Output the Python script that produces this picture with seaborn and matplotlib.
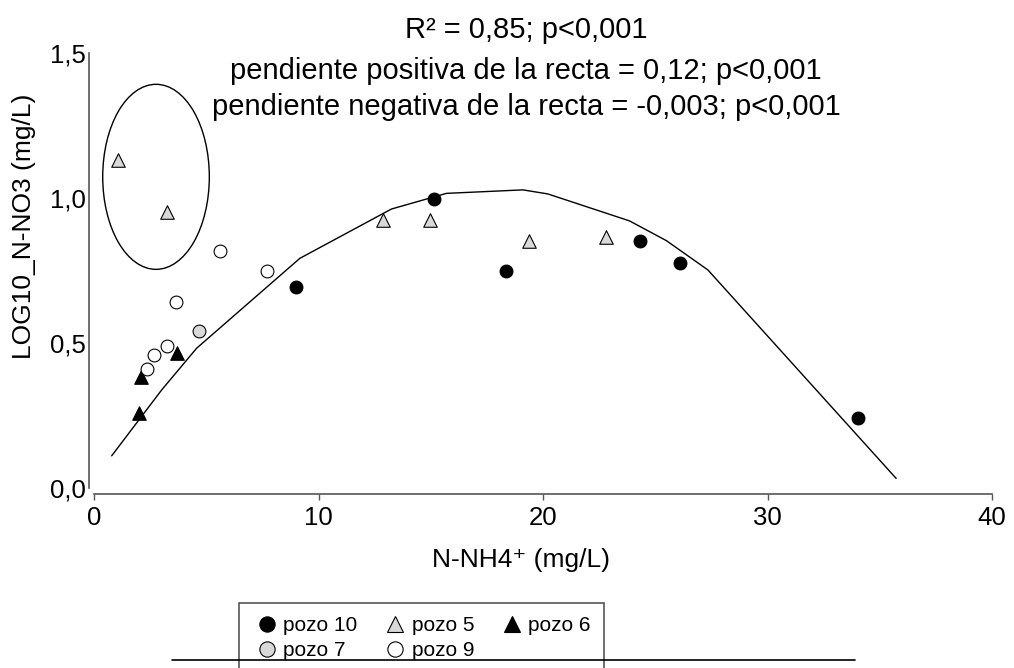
import numpy as np
import pandas as pd
import matplotlib
matplotlib.use("Agg")
import matplotlib.pyplot as plt
import matplotlib.transforms as mtransforms
from matplotlib.patches import Ellipse
from matplotlib.lines import Line2D
import seaborn as sns

# ---------------- data ----------------
pozo10_x = [8.97, 15.12, 18.33, 24.33, 26.12, 34.05]
pozo10_y = [0.694, 0.997, 0.748, 0.852, 0.775, 0.242]

pozo5_x = [1.06, 3.24, 12.85, 14.95, 19.39, 22.81]
pozo5_y = [1.131, 0.952, 0.924, 0.924, 0.853, 0.866]

pozo6_x = [1.99, 2.07, 3.67]
pozo6_y = [0.258, 0.384, 0.467]

pozo7_x = [4.66]
pozo7_y = [0.541]

pozo9_x = [2.36, 2.67, 3.22, 3.62, 5.60, 7.68]
pozo9_y = [0.409, 0.460, 0.491, 0.640, 0.818, 0.748]

curve_x = [0.775, 3.00, 4.56, 9.16, 13.24, 15.69, 19.10, 20.21, 23.85, 25.49, 27.34, 35.73]
curve_y = [0.111, 0.338, 0.482, 0.792, 0.962, 1.016, 1.028, 1.014, 0.921, 0.853, 0.752, 0.033]

x_ticks = [0, 10, 20, 30, 40]
x_ticklabels = ["0", "10", "20", "30", "40"]
y_ticks = [0.0, 0.5, 1.0, 1.5]
y_ticklabels = ["0,0", "0,5", "1,0", "1,5"]

title_lines = ["R\u00b2 = 0,85; p<0,001",
               "pendiente positiva de la recta = 0,12; p<0,001",
               "pendiente negativa de la recta = -0,003; p<0,001"]
xlabel = "N-NH4\u207a (mg/L)"
ylabel = "LOG10_N-NO3 (mg/L)"
series_labels = ["pozo 10", "pozo 7", "pozo 5", "pozo 9", "pozo 6"]

# ---------------- figure ----------------
sns.set_theme(style="white")
plt.rcParams['font.family'] = ['Liberation Sans', 'DejaVu Sans']
plt.rcParams['text.color'] = 'black'
plt.rcParams['axes.labelcolor'] = 'black'
plt.rcParams['xtick.color'] = 'black'
plt.rcParams['ytick.color'] = 'black'

W, H = 1014, 668
fig = plt.figure(figsize=(W / 100, H / 100), dpi=100)
left, right, top, bottom = 94.3, 992, 53, 488
ax = fig.add_axes([left / W, 1 - bottom / H, (right - left) / W, (bottom - top) / H])

GRAY = "#d9d9d9"
styles = {
    "pozo 10": dict(marker="o", facecolor="black", s=85),
    "pozo 5": dict(marker="^", facecolor=GRAY, s=95),
    "pozo 6": dict(marker="^", facecolor="black", s=95),
    "pozo 7": dict(marker="o", facecolor=GRAY, s=85),
    "pozo 9": dict(marker="o", facecolor="white", s=85),
}
data = {
    "pozo 10": (pozo10_x, pozo10_y),
    "pozo 5": (pozo5_x, pozo5_y),
    "pozo 6": (pozo6_x, pozo6_y),
    "pozo 7": (pozo7_x, pozo7_y),
    "pozo 9": (pozo9_x, pozo9_y),
}

df_curve = pd.DataFrame({"x": curve_x, "y": curve_y})
sns.lineplot(data=df_curve, x="x", y="y", sort=False, color="black", lw=1.0, ax=ax, zorder=2)

for name, (xs, ys) in data.items():
    st = styles[name]
    sns.scatterplot(x=xs, y=ys, marker=st["marker"], color=st["facecolor"],
                    edgecolor="black", linewidth=0.8, s=st["s"], ax=ax, zorder=3)

ax.add_patch(Ellipse((2.75, 1.073), 4.75, 0.638, fill=False, edgecolor="black", lw=1.0, zorder=2))

ax.set_xlim(0, 40)
ax.set_ylim(0, 1.5)
ax.set_xticks(x_ticks)
ax.set_xticklabels(x_ticklabels)
ax.set_yticks(y_ticks)
ax.set_yticklabels(y_ticklabels)
ax.tick_params(axis="x", direction="out", length=4, width=1, color="#555555",
               labelcolor="black", labelsize=18.5, pad=5, bottom=True)
ax.tick_params(axis="y", length=0, labelsize=18.5, pad=2, left=True, labelcolor="black")
for lab in ax.get_yticklabels():
    lab.set_transform(lab.get_transform() + mtransforms.ScaledTranslation(0, -8 / 100, fig.dpi_scale_trans))

sns.despine(ax=ax)
ax.spines["left"].set_position(("outward", 3.8))
ax.spines["bottom"].set_position(("outward", 4.3))
for sp in ("left", "bottom"):
    ax.spines[sp].set_color("#555555")
    ax.spines[sp].set_linewidth(1.2)

ax.set_xlabel(xlabel, fontsize=19, color="black")
ax.set_ylabel(ylabel, fontsize=19, color="black")
ax.xaxis.set_label_coords((521 - left) / (right - left), -(548 - bottom) / (bottom - top), transform=ax.transAxes)
ax.yaxis.label.set_verticalalignment("center")
ax.yaxis.set_label_coords(-(left - 24) / (right - left), (bottom - 226) / (bottom - top), transform=ax.transAxes)

# title lines
for txt, yb in zip(title_lines, [38, 79, 115]):
    fig.text(526 / W, 1 - yb / H, txt, ha="center", va="baseline", fontsize=21, color="black")

# legend
handles = []
for name in series_labels:
    st = styles[name]
    handles.append(Line2D([], [], linestyle="none", marker=st["marker"], markersize=11,
                          markerfacecolor=st["facecolor"], markeredgecolor="black",
                          markeredgewidth=0.8, label=name))
leg = fig.legend(handles=handles, labels=series_labels, ncol=3, loc="upper left",
                 bbox_to_anchor=(239 / W, 1 - 603 / H), fontsize=15,
                 frameon=True, fancybox=False, framealpha=1, edgecolor="#555555",
                 handlelength=1.4, handletextpad=0.1, columnspacing=1.1,
                 labelspacing=0.3, borderpad=0.62, borderaxespad=0)
leg.get_frame().set_linewidth(1.2)
for t in leg.get_texts():
    t.set_color("black")

fig.add_artist(Line2D([172 / W, 855 / W], [1 - 660 / H, 1 - 660 / H], color="black", lw=1.2,
                      transform=fig.transFigure, zorder=10))

fig.savefig("out.png", dpi=100)
